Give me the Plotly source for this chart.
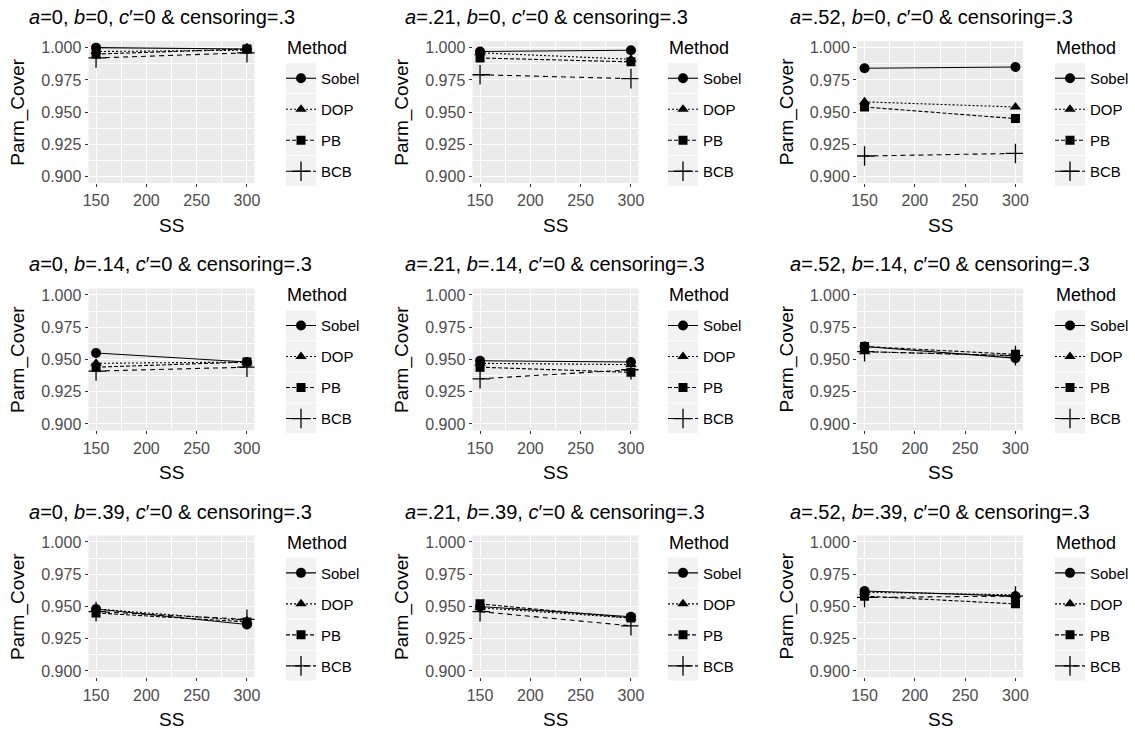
import plotly.graph_objects as go

W, H = 1135, 729

ss = [150, 300]
methods = ["Sobel", "DOP", "PB", "BCB"]
a_labels = ["0", ".21", ".52"]
b_labels = ["0", ".14", ".39"]

# panel order: row-major (rows = b, cols = a)
sobel = [[1.000, 0.999], [0.997, 0.998], [0.984, 0.985],
         [0.955, 0.948], [0.949, 0.948], [0.960, 0.951],
         [0.948, 0.936], [0.950, 0.942], [0.962, 0.958]]
dop = [[0.997, 0.998], [0.996, 0.991], [0.958, 0.954],
       [0.947, 0.948], [0.947, 0.946], [0.956, 0.953],
       [0.948, 0.939], [0.949, 0.941], [0.961, 0.959]]
pb = [[0.995, 0.999], [0.992, 0.989], [0.954, 0.945],
      [0.944, 0.948], [0.944, 0.940], [0.960, 0.954],
      [0.945, 0.938], [0.952, 0.941], [0.958, 0.952]]
bcb = [[0.992, 0.996], [0.979, 0.976], [0.916, 0.918],
       [0.941, 0.944], [0.935, 0.942], [0.956, 0.953],
       [0.946, 0.940], [0.946, 0.935], [0.957, 0.958]]

y_ticks = [0.900, 0.925, 0.950, 0.975, 1.000]
x_ticks = [150, 200, 250, 300]

series = {"Sobel": sobel, "DOP": dop, "PB": pb, "BCB": bcb}
symbols = {"Sobel": "circle", "DOP": "triangle-up", "PB": "square", "BCB": "cross-thin"}
msizes = {"Sobel": 10, "DOP": 10, "PB": 9, "BCB": 14}
dashes = {"Sobel": "solid", "DOP": "2px,2px", "PB": "4px,2px", "BCB": "5px,4px"}

col_left = [88.5, 472.5, 857.0]
col_right = [254.5, 638.5, 1023.0]
row_top = [41.2, 288.5, 535.5]
row_bot = [183.1, 430.4, 677.4]
legend_left = [281.0, 663.0, 1050.0]
title_left = [27.0, 403.0, 788.0]

FONT = "Liberation Sans, Arial, sans-serif"

fig = go.Figure()
layout = dict(
    width=W, height=H, margin=dict(l=0, r=0, t=0, b=0, autoexpand=False),
    paper_bgcolor="white", plot_bgcolor="#EBEBEB",
    font=dict(family=FONT, color="black"),
    showlegend=True, hovermode=False,
)
annotations = []
shapes = []

for r in range(3):
    for c in range(3):
        k = r * 3 + c
        idx = "" if k == 0 else str(k + 1)
        xa, ya = "x" + idx, "y" + idx
        leg = "legend" if k == 0 else "legend" + str(k + 1)
        for m in methods:
            fig.add_trace(go.Scatter(
                x=ss, y=series[m][k], mode="lines+markers", name=m,
                xaxis=xa, yaxis=ya, legend=leg, legendgroup=m + str(k),
                line=dict(color="black", width=1.1, dash=dashes[m]),
                marker=dict(symbol=symbols[m], size=msizes[m], color="black",
                            line=dict(color="black", width=1.3 if m == "BCB" else 0)),
            ))
        xd = [col_left[c] / W, col_right[c] / W]
        yd = [1 - row_bot[r] / H, 1 - row_top[r] / H]
        layout["xaxis" + idx] = dict(
            domain=xd, anchor=ya, range=[142.5, 307.5],
            tickvals=x_ticks, ticks="outside", ticklen=3, tickcolor="#333333",
            tickfont=dict(size=16, color="#4D4D4D"),
            showgrid=True, gridcolor="white", gridwidth=1.1, zeroline=False,
            showline=False,
            minor=dict(tickvals=[175, 225, 275], showgrid=True, gridcolor="white",
                       gridwidth=0.5, ticks=""),
        )
        layout["yaxis" + idx] = dict(
            domain=yd, anchor=xa, range=[0.895, 1.005],
            tickvals=y_ticks, tickformat=".3f", ticks="outside", ticklen=3,
            tickcolor="#333333", tickfont=dict(size=16, color="#4D4D4D"),
            showgrid=True, gridcolor="white", gridwidth=1.1, zeroline=False,
            showline=False,
            minor=dict(tickvals=[0.9125, 0.9375, 0.9625, 0.9875], showgrid=True,
                       gridcolor="white", gridwidth=0.5, ticks=""),
        )
        off = r * 247.3
        layout[leg] = dict(
            x=legend_left[c] / W, y=1 - (off + 62) / H, xanchor="left", yanchor="top",
            xref="paper", yref="paper",
            font=dict(size=15, color="black"), tracegroupgap=8.5,
            bgcolor="rgba(0,0,0,0)",
        )
        annotations.append(dict(
            text="Method", xref="paper", yref="paper",
            x=(legend_left[c] + 4) / W, y=1 - (off + 48) / H,
            xanchor="left", yanchor="middle", showarrow=False,
            font=dict(size=18, color="black")))
        # legend key backgrounds
        for i in range(4):
            y0 = off + 63 + i * 31
            shapes.append(dict(type="rect", xref="paper", yref="paper",
                               x0=(legend_left[c] + 5) / W, x1=(legend_left[c] + 35) / W,
                               y0=1 - (y0 + 30) / H, y1=1 - y0 / H,
                               fillcolor="#F2F2F2", line=dict(width=0), layer="below"))
        # title
        title = (f"<i>a</i>={a_labels[c]}, <i>b</i>={b_labels[r]}, "
                 f"<i>c</i>\u2032=0 & censoring=.3")
        annotations.append(dict(
            text=title, xref="paper", yref="paper",
            x=title_left[c] / W, y=1 - (off + 17) / H,
            xanchor="left", yanchor="middle", showarrow=False,
            font=dict(size=20, color="black")))
        # axis titles
        annotations.append(dict(
            text="Parm_Cover", xref="paper", yref="paper",
            x=(col_left[c] - 70) / W, y=1 - ((row_top[r] + row_bot[r]) / 2) / H,
            xanchor="center", yanchor="middle", textangle=-90, showarrow=False,
            font=dict(size=19, color="black")))
        annotations.append(dict(
            text="SS", xref="paper", yref="paper",
            x=((col_left[c] + col_right[c]) / 2) / W, y=1 - (off + 225) / H,
            xanchor="center", yanchor="middle", showarrow=False,
            font=dict(size=19, color="black")))

layout["annotations"] = annotations
layout["shapes"] = shapes
fig.update_layout(**layout)
fig.write_html("out.html", config={"displayModeBar": False},
               post_script="document.body.style.margin='0px';")
